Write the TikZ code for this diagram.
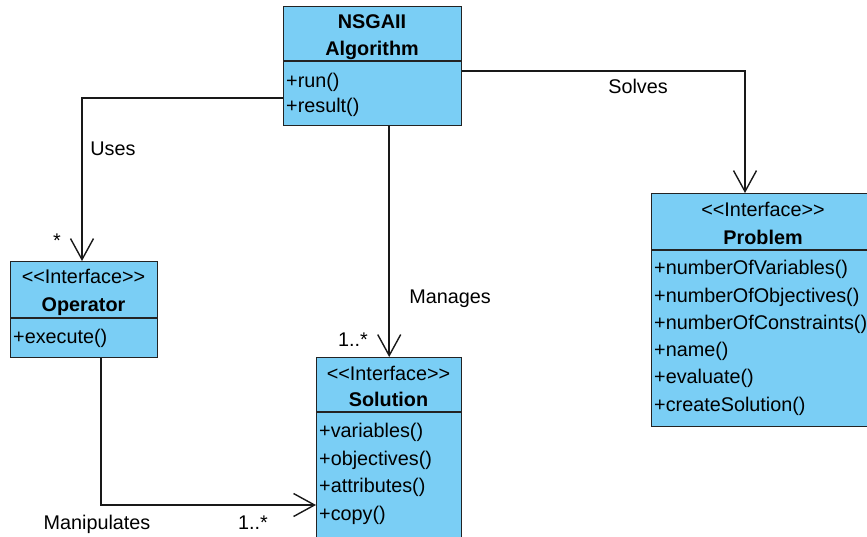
\documentclass[tikz,border=0pt]{standalone}
\usepackage{fontspec}
\setmainfont{Liberation Sans}
\usetikzlibrary{arrows.meta}
\definecolor{classfill}{RGB}{122,206,245}
\definecolor{classedge}{RGB}{35,35,35}
\newcommand{\stereo}[1]{<{}<#1>{}>}
\begin{document}
\begin{tikzpicture}[x=1pt,y=-1pt,
  classbox/.style={draw=classedge, fill=classfill, line width=1.4pt, rectangle,
    inner sep=0pt, anchor=north west},
  divider/.style={draw=classedge, line width=1.4pt},
  txt/.style={font=\fontsize{19.8}{23}\selectfont, inner sep=0pt,
    text height=14pt, text depth=4pt, yshift=-2pt},
  title/.style={txt, font=\bfseries\fontsize{19.8}{23}\selectfont},
  member/.style={txt, anchor=west},
  assoc/.style={draw=black!90, line width=1.5pt,
    -{Straight Barb[length=21pt, width=23pt, line width=1.4pt]}}]
\useasboundingbox (0,0) rectangle (867,536);
\fill[white] (0,0) rectangle (867,536);
\clip (0,0) rectangle (867,536);

% NSGAII algorithm class
\node[classbox, minimum width=178pt, minimum height=119pt] (alg) at (283,6) {};
\draw[divider] (alg.west |- 0,61) -- (alg.east |- 0,61);
\node[title] (algT1) at (372,21) {NSGAII};
\node[title] (algT2) at (372,48) {Algorithm};
\node[member] (algM1) at (286,80) {+run()};
\node[member] (algM2) at (286,105) {+result()};

% Operator interface
\node[classbox, minimum width=147pt, minimum height=96pt] (op) at (10,261) {};
\draw[divider] (op.west |- 0,318) -- (op.east |- 0,318);
\node[txt] (opS) at (83.5,276) {\stereo{Interface}};
\node[title] (opT) at (83.5,304) {Operator};
\node[member] (opM1) at (13,336) {+execute()};

% Solution interface
\node[classbox, minimum width=145pt, minimum height=190pt] (sol) at (316,357) {};
\draw[divider] (sol.west |- 0,412) -- (sol.east |- 0,412);
\node[txt] (solS) at (388.5,373) {\stereo{Interface}};
\node[title] (solT) at (388.5,399) {Solution};
\node[member] (solM1) at (319,430) {+variables()};
\node[member] (solM2) at (319,458) {+objectives()};
\node[member] (solM3) at (319,485) {+attributes()};
\node[member] (solM4) at (319,513) {+copy()};

% Problem interface
\node[classbox, minimum width=230pt, minimum height=233pt] (prob) at (651,193) {};
\draw[divider] (prob.west |- 0,250) -- (prob.east |- 0,250);
\node[txt] (probS) at (763,209) {\stereo{Interface}};
\node[title] (probT) at (763,237) {Problem};
\node[member] (probM1) at (654,267) {+numberOfVariables()};
\node[member] (probM2) at (654,295) {+numberOfObjectives()};
\node[member] (probM3) at (654,322) {+numberOfConstraints()};
\node[member] (probM4) at (654,349) {+name()};
\node[member] (probM5) at (654,376) {+evaluate()};
\node[member] (probM6) at (654,404) {+createSolution()};

% associations
\draw[assoc] (alg.west |- 0,98) -| (op.north -| 82,0);
\draw[assoc] (alg.south -| sol.north) -- (sol.north);
\draw[assoc] (alg.east |- 0,71) -| (prob.north -| 745,0);
\draw[assoc] (op.south -| 101,0) |- (sol.west |- 0,505);

% association labels
\node[txt] (lUses) at (113,148) {Uses};
\node[txt] (lUsesM) at (57,240) {*};
\node[txt] (lManages) at (450,296) {Manages};
\node[txt] (lManagesM) at (353,339) {1..*};
\node[txt] (lSolves) at (638,86) {Solves};
\node[txt] (lManip) at (97,522) {Manipulates};
\node[txt] (lManipM) at (253,522) {1..*};
\end{tikzpicture}
\end{document}
